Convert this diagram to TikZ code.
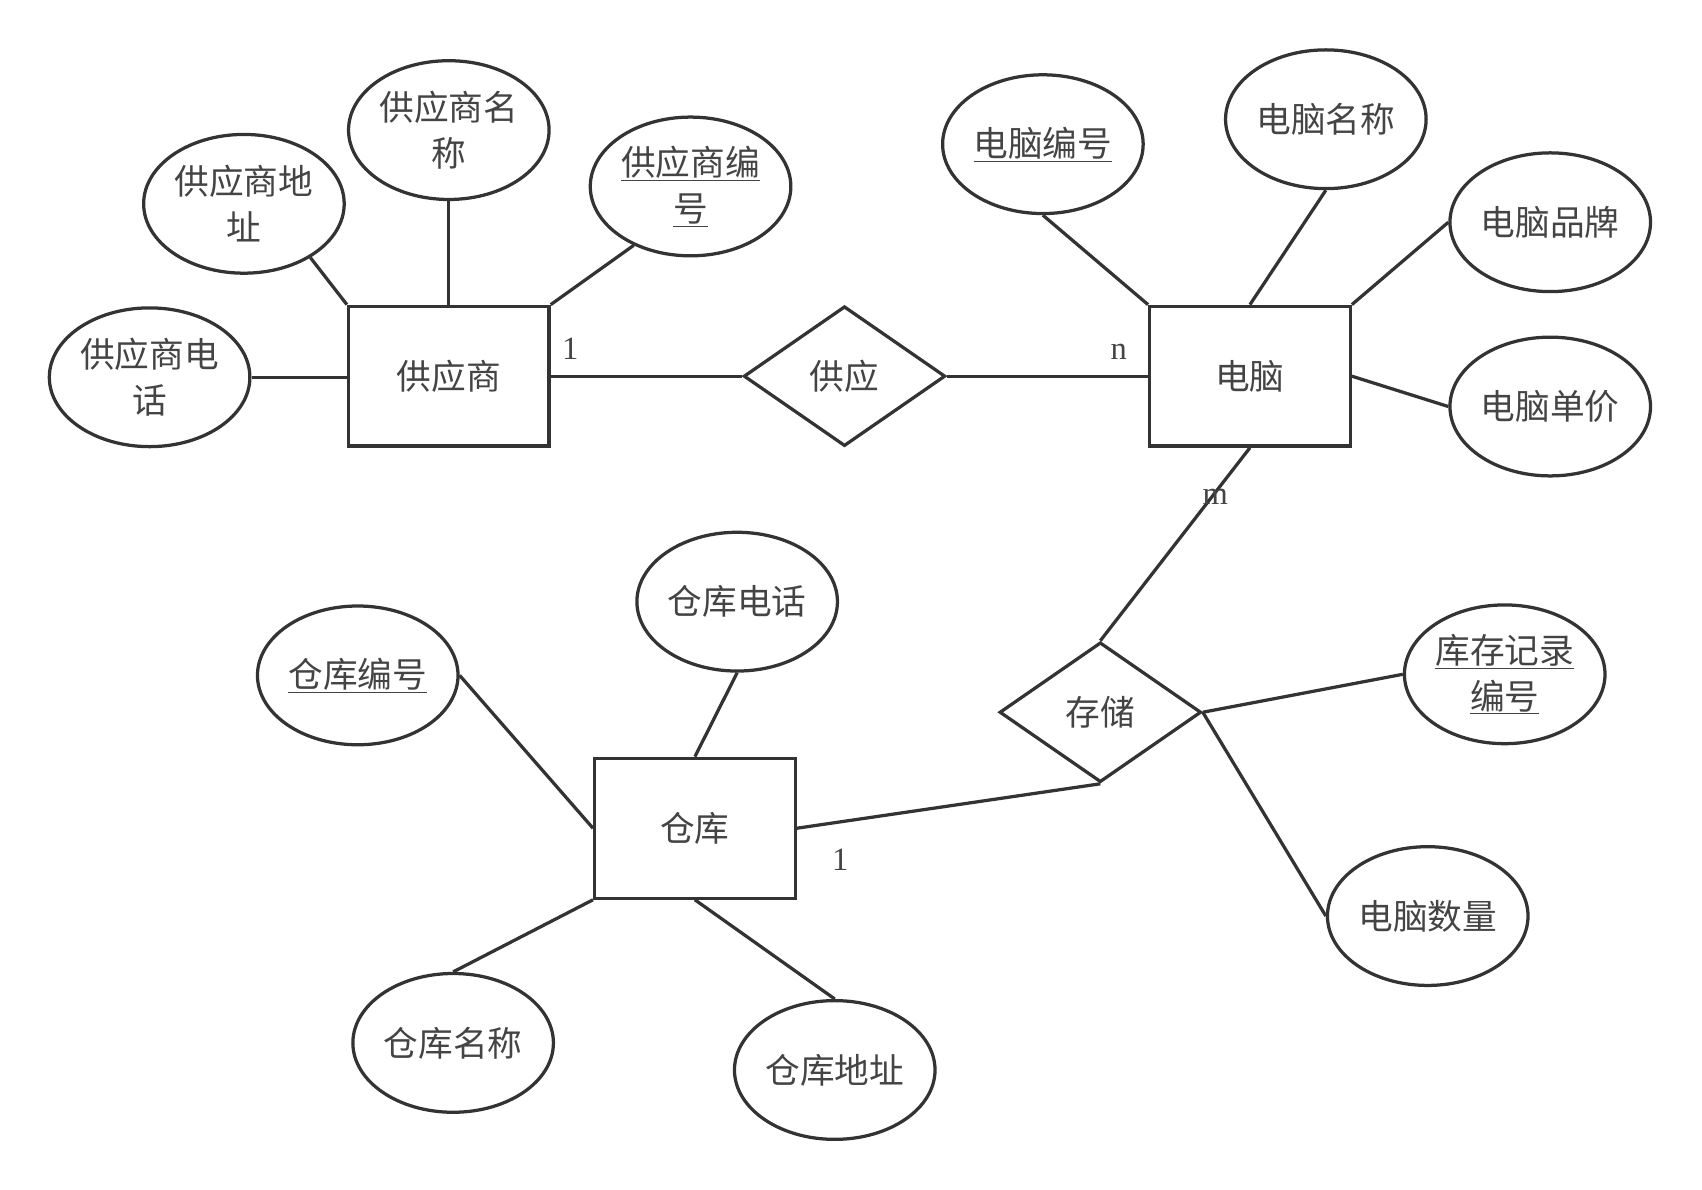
\documentclass[tikz,border=0pt]{standalone}
\usepackage{fontspec}
\setmainfont{Noto Sans CJK SC}[Scale=1]
\newfontfamily\numfont{Liberation Serif}
\usetikzlibrary{shapes.geometric}
\definecolor{ink}{HTML}{333333}
\definecolor{txt}{HTML}{444444}
\tikzset{entity/.style = {draw=ink,line width=3pt,minimum width=185pt,minimum height=129pt,text=txt,font=\fontsize{32}{42}\selectfont}}
\tikzset{attr/.style = {ellipse,draw=ink,line width=3pt,minimum width=185pt,minimum height=128pt,inner sep=0pt,align=center,text=txt,font=\fontsize{32}{42}\selectfont}}
\tikzset{rel/.style = {diamond,draw=ink,line width=3pt,minimum width=186pt,minimum height=129pt,inner sep=0pt,aspect=1.44,text=txt,font=\fontsize{32}{42}\selectfont}}
\tikzset{edge/.style = {draw=ink,line width=3pt}}
\tikzset{card/.style = {text=txt,font=\numfont\fontsize{30}{36}\selectfont}}
\begin{document}
\begin{tikzpicture}[x=1pt,y=-1pt]
\useasboundingbox (0,0) rectangle (1570,1097);

\node[entity] (sup) at (414,347) {供应商};
\node[entity] (pc) at (1153,347) {电脑};
\node[entity] (wh) at (641,764) {仓库};
\node[rel] (supply) at (779,347) {供应};
\node[rel] (store) at (1015,657) {存储};

\node[attr] (suptel) at (138,348) {供应商电\\话};
\node[attr] (supaddr) at (225,188) {供应商地\\址};
\node[attr] (supname) at (414,120) {供应商名\\称};
\node[attr] (supid) at (637,172) {\underline{供应商编}\\\underline{号}};

\node[attr] (pcid) at (962,133) {\underline{电脑编号}};
\node[attr] (pcname) at (1223,110) {电脑名称};
\node[attr] (pcbrand) at (1430,205) {电脑品牌};
\node[attr] (pcprice) at (1430,375) {电脑单价};

\node[attr] (recid) at (1388,622) {\underline{库存记录}\\\underline{编号}};
\node[attr] (pcnum) at (1317,845) {电脑数量};

\node[attr] (whtel) at (680,555) {仓库电话};
\node[attr] (whid) at (330,623) {\underline{仓库编号}};
\node[attr] (whname) at (418,962) {仓库名称};
\node[attr] (whaddr) at (770,987) {仓库地址};

\draw[edge] (suptel.east) -- (sup.west |- suptel);
\draw[edge] (supaddr.-39) -- (sup.north west);
\draw[edge] (supname.south) -- (sup.north);
\draw[edge] (supid.-134) -- (sup.north east);
\draw[edge] (sup.east) -- (supply.west);
\draw[edge] (supply.east) -- (pc.west);

\draw[edge] (pcid.south) -- (pc.north west);
\draw[edge] (pcname.south) -- (pc.north);
\draw[edge] (pcbrand.west) -- (pc.north east);
\draw[edge] (pcprice.west) -- (pc.east);
\draw[edge] (pc.south) -- (store.north);

\draw[edge] (store.east) -- (recid.west);
\draw[edge] (store.east) -- (pcnum.west);
\draw[edge] (store.south) -- (wh.east);

\draw[edge] (whtel.south) -- (wh.north);
\draw[edge] (whid.east) -- (wh.west);
\draw[edge] (wh.south west) -- (whname.north);
\draw[edge] (wh.south) -- (whaddr.north);

\node[card] (c1) at (526,322) {1};
\node[card] (cn) at (1032,325) {n};
\node[card] (cm) at (1121,458) {m};
\node[card] (c2) at (775,793) {1};
\end{tikzpicture}
\end{document}
